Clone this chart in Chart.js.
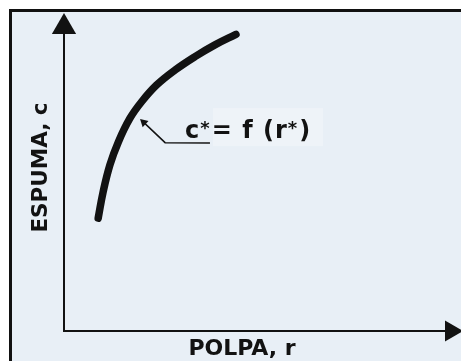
<!DOCTYPE html>
<html>
<head>
<meta charset="utf-8">
<script src="https://cdn.jsdelivr.net/npm/chart.js@4.4.1/dist/chart.umd.min.js"></script>
<style>
  body { margin: 0; background: #fff; }
  #wrap { position: relative; width: 461px; height: 361px; overflow: hidden; }
  #frame { position: absolute; left: 9px; top: 9px; right: 0; bottom: 0;
           border-top: 3px solid #111; border-left: 3px solid #111; background: #e8eff6; }
  #chart { position: absolute; left: 0; top: 0; }
</style>
</head>
<body>
<div id="wrap">
  <div id="frame"></div>
  <canvas id="chart" width="461" height="361"></canvas>
</div>
<script>
// curve c* = f(r*)
const curveR = [0.96, 1.10, 1.29, 1.53, 1.85, 2.18, 2.60, 3.12, 3.68, 4.24, 4.83];
const curveC = [3.45, 4.26, 5.08, 5.79, 6.50, 7.01, 7.52, 7.98, 8.39, 8.75, 9.07];

// axes with arrow ends (end point repeated so the arrow is not an end point)
const yAxisR = [0, 0, 0];
const yAxisC = [0, 9.30, 9.30];
const xAxisR = [0, 10.87, 10.87];
const xAxisC = [0, 0, 0];

// pointer to the curve
const pointerR = [4.10, 2.84, 2.24, 2.24];
const pointerC = [5.75, 5.76, 6.38, 6.38];

// label, asterisks raised
const labelParts = ['c', '*', '= f (r', '*', ')'];
const labelSup = [false, true, false, true, false];
const labelAt = [3.40, 5.90];

const ink = '#121212';

function toPoints(xs, ys){
  return xs.map((v, i) => ({x: v, y: ys[i]}));
}

const curveLabel = {
  id: 'curveLabel',
  beforeDatasetsDraw(chart){
    const ctx = chart.ctx;
    const px = chart.scales.x.getPixelForValue(labelAt[0]);
    const py = chart.scales.y.getPixelForValue(labelAt[1]);
    ctx.save();
    ctx.fillStyle = '#eef3f8';
    ctx.fillRect(px + 28, py - 30, 110, 38);
    ctx.restore();
  },
  afterDatasetsDraw(chart){
    const ctx = chart.ctx;
    // x arrow head lies right of the chart area, draw it with the full canvas as area
    const full = {left: 0, top: 0, right: chart.width, bottom: chart.height};
    chart.getDatasetMeta(2).data[1].draw(ctx, full);

    let px = chart.scales.x.getPixelForValue(labelAt[0]);
    const py = chart.scales.y.getPixelForValue(labelAt[1]);
    ctx.save();
    ctx.fillStyle = ink;
    ctx.textBaseline = 'alphabetic';
    ctx.letterSpacing = '1px';
    labelParts.forEach((t, i) => {
      ctx.font = labelSup[i] ? 'bold 18px "DejaVu Sans"' : 'bold 24px "DejaVu Sans"';
      ctx.fillText(t, px, labelSup[i] ? py - 4 : py);
      px += ctx.measureText(t).width + (labelSup[i] ? 1 : 0);
    });
    ctx.restore();
  }
};

const ctx = document.getElementById('chart');

new Chart(ctx, {
  type: 'scatter',
  data: {
    datasets: [{
      data: toPoints(curveR, curveC),
      showLine: true,
      borderColor: ink,
      borderWidth: 7.5,
      borderCapStyle: 'round',
      tension: 0.4,
      pointRadius: 0,
      clip: false
    }, {
      data: toPoints(yAxisR, yAxisC),
      showLine: true,
      borderColor: ink,
      backgroundColor: ink,
      borderWidth: 2,
      borderCapStyle: 'square',
      pointStyle: 'triangle',
      pointRadius: [0, 14, 0],
      pointRotation: 0,
      pointBorderWidth: 0,
      clip: false
    }, {
      data: toPoints(xAxisR, xAxisC),
      showLine: true,
      borderColor: ink,
      backgroundColor: ink,
      borderWidth: 2,
      borderCapStyle: 'square',
      pointStyle: 'triangle',
      pointRadius: [0, 12, 0],
      pointRotation: 90,
      pointBorderWidth: 0,
      clip: false
    }, {
      data: toPoints(pointerR, pointerC),
      showLine: true,
      borderColor: ink,
      backgroundColor: ink,
      borderWidth: 1.5,
      pointStyle: 'triangle',
      pointRadius: [0, 0, 5, 0],
      pointRotation: -47,
      pointBorderWidth: 0,
      clip: false
    }]
  },
  options: {
    responsive: false,
    animation: false,
    events: [],
    layout: {
      padding: {left: 0, top: 4, right: 41, bottom: 0}
    },
    plugins: {
      legend: { display: false },
      tooltip: { enabled: false }
    },
    scales: {
      x: {
        type: 'linear',
        min: 0,
        max: 10,
        border: { display: false },
        grid: { display: false, drawTicks: false },
        ticks: { display: false },
        title: {
          display: true,
          text: 'POLPA, r',
          color: ink,
          font: { family: '"DejaVu Sans"', size: 22, weight: 'bold', lineHeight: 1 },
          padding: { top: 7.4, bottom: 0.6 }
        }
      },
      y: {
        type: 'linear',
        min: 0,
        max: 10,
        border: { display: false },
        grid: { display: false, drawTicks: false },
        ticks: { display: false },
        title: {
          display: true,
          text: 'ESPUMA, c',
          color: ink,
          font: { family: '"DejaVu Sans"', size: 21.5, weight: 'bold', lineHeight: 1.2 },
          padding: { top: 28.1, bottom: 10.1 }
        }
      }
    }
  },
  plugins: [curveLabel]
});
</script>
</body>
</html>
